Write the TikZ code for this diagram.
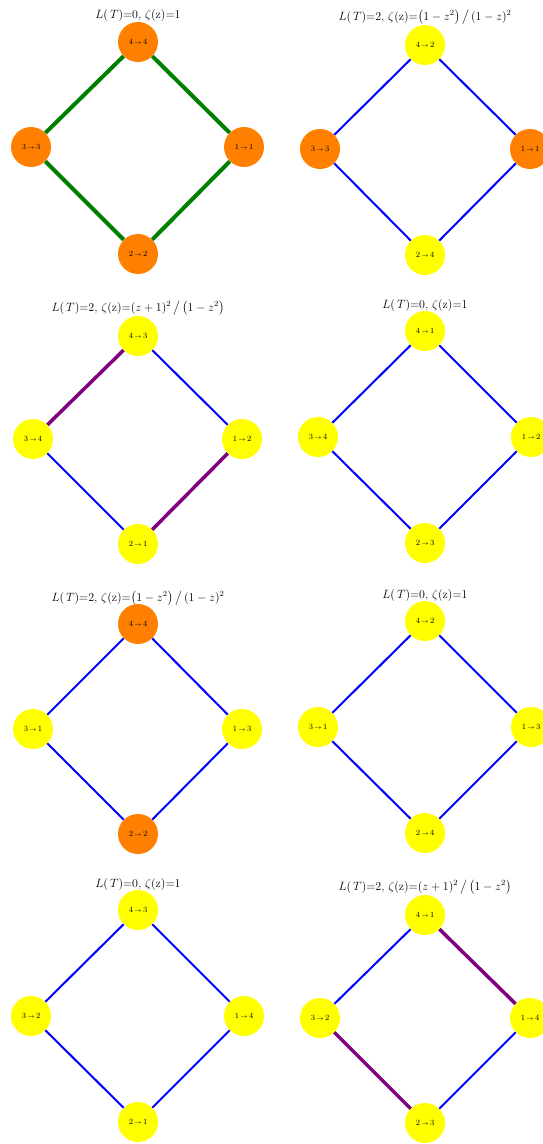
\documentclass[tikz,border=0pt]{standalone}
\usepackage{amsmath}
\definecolor{vorange}{rgb}{1,0.5,0}
\definecolor{vyellow}{rgb}{1,1,0}
\definecolor{vgreen}{rgb}{0,0.5,0}
\definecolor{vpurple}{rgb}{0.5,0,0.5}
\definecolor{vblue}{rgb}{0,0,1}
\newcommand{\tzero}{$L(\,T)\mathord{=}0{,}\ \zeta(\mathrm{z})\mathord{=}1$}
\newcommand{\tA}{$L(\,T)\mathord{=}2{,}\ \zeta(\mathrm{z})\mathord{=}\bigl(1-z^{2}\bigr)\,\big/\,(1-z)^{2}$}
\newcommand{\tB}{$L(\,T)\mathord{=}2{,}\ \zeta(\mathrm{z})\mathord{=}(z+1)^{2}\,\big/\,\bigl(1-z^{2}\bigr)$}
\newcommand{\mapto}[2]{#1\,$\scriptstyle\rightarrow$\,#2}
\begin{document}
\begin{tikzpicture}[x=1pt,y=-1pt,
  vtx/.style={circle,minimum size=40pt,inner sep=0pt,font=\fontsize{8}{9}\selectfont},
  org/.style={vtx,fill=vorange},
  yel/.style={vtx,fill=vyellow},
  eb/.style={draw=vblue,line width=2pt},
  eg/.style={draw=vgreen,line width=4pt},
  ep/.style={draw=vpurple,line width=3.5pt},
  ttl/.style={anchor=base,font=\fontsize{11.5}{13}\selectfont,inner sep=0pt}]
\useasboundingbox (0,0) rectangle (543,1144);
\clip (0,0) rectangle (543,1144);
% ---------- panel 1
\node[ttl] (t1) at (138,18) {\tzero};
\node[org] (a1) at (138,42) {\mapto{4}{4}};
\node[org] (b1) at (244,147) {\mapto{1}{1}};
\node[org] (c1) at (138,254) {\mapto{2}{2}};
\node[org] (d1) at (31,147) {\mapto{3}{3}};
\draw[eg] (a1)--(b1); \draw[eg] (b1)--(c1); \draw[eg] (c1)--(d1); \draw[eg] (d1)--(a1);
% ---------- panel 2
\node[ttl] (t2) at (425,20) {\tA};
\node[yel] (a2) at (425,45) {\mapto{4}{2}};
\node[org] (b2) at (530,149) {\mapto{1}{1}};
\node[yel] (c2) at (425,255) {\mapto{2}{4}};
\node[org] (d2) at (320,149) {\mapto{3}{3}};
\draw[eb] (a2)--(b2); \draw[eb] (b2)--(c2); \draw[eb] (c2)--(d2); \draw[eb] (d2)--(a2);
% ---------- panel 3
\node[ttl] (t3) at (138,311) {\tB};
\node[yel] (a3) at (138,336) {\mapto{4}{3}};
\node[yel] (b3) at (242,439) {\mapto{1}{2}};
\node[yel] (c3) at (138,544) {\mapto{2}{1}};
\node[yel] (d3) at (33,439) {\mapto{3}{4}};
\draw[eb] (a3)--(b3); \draw[ep] (b3)--(c3); \draw[eb] (c3)--(d3); \draw[ep] (d3)--(a3);
% ---------- panel 4
\node[ttl] (t4) at (425,308) {\tzero};
\node[yel] (a4) at (425,331) {\mapto{4}{1}};
\node[yel] (b4) at (531,437) {\mapto{1}{2}};
\node[yel] (c4) at (425,543) {\mapto{2}{3}};
\node[yel] (d4) at (318,437) {\mapto{3}{4}};
\draw[eb] (a4)--(b4); \draw[eb] (b4)--(c4); \draw[eb] (c4)--(d4); \draw[eb] (d4)--(a4);
% ---------- panel 5
\node[ttl] (t5) at (138,601) {\tA};
\node[org] (a5) at (138,624) {\mapto{4}{4}};
\node[yel] (b5) at (242,729) {\mapto{1}{3}};
\node[org] (c5) at (138,834) {\mapto{2}{2}};
\node[yel] (d5) at (33,729) {\mapto{3}{1}};
\draw[eb] (a5)--(b5); \draw[eb] (b5)--(c5); \draw[eb] (c5)--(d5); \draw[eb] (d5)--(a5);
% ---------- panel 6
\node[ttl] (t6) at (425,598) {\tzero};
\node[yel] (a6) at (425,621) {\mapto{4}{2}};
\node[yel] (b6) at (531,727) {\mapto{1}{3}};
\node[yel] (c6) at (425,833) {\mapto{2}{4}};
\node[yel] (d6) at (318,727) {\mapto{3}{1}};
\draw[eb] (a6)--(b6); \draw[eb] (b6)--(c6); \draw[eb] (c6)--(d6); \draw[eb] (d6)--(a6);
% ---------- panel 7
\node[ttl] (t7) at (138,887) {\tzero};
\node[yel] (a7) at (138,910) {\mapto{4}{3}};
\node[yel] (b7) at (244,1016) {\mapto{1}{4}};
\node[yel] (c7) at (138,1122) {\mapto{2}{1}};
\node[yel] (d7) at (31,1016) {\mapto{3}{2}};
\draw[eb] (a7)--(b7); \draw[eb] (b7)--(c7); \draw[eb] (c7)--(d7); \draw[eb] (d7)--(a7);
% ---------- panel 8
\node[ttl] (t8) at (425,890) {\tB};
\node[yel] (a8) at (425,915) {\mapto{4}{1}};
\node[yel] (b8) at (530,1018) {\mapto{1}{4}};
\node[yel] (c8) at (425,1123) {\mapto{2}{3}};
\node[yel] (d8) at (320,1018) {\mapto{3}{2}};
\draw[ep] (a8)--(b8); \draw[eb] (b8)--(c8); \draw[ep] (c8)--(d8); \draw[eb] (d8)--(a8);
\end{tikzpicture}
\end{document}
